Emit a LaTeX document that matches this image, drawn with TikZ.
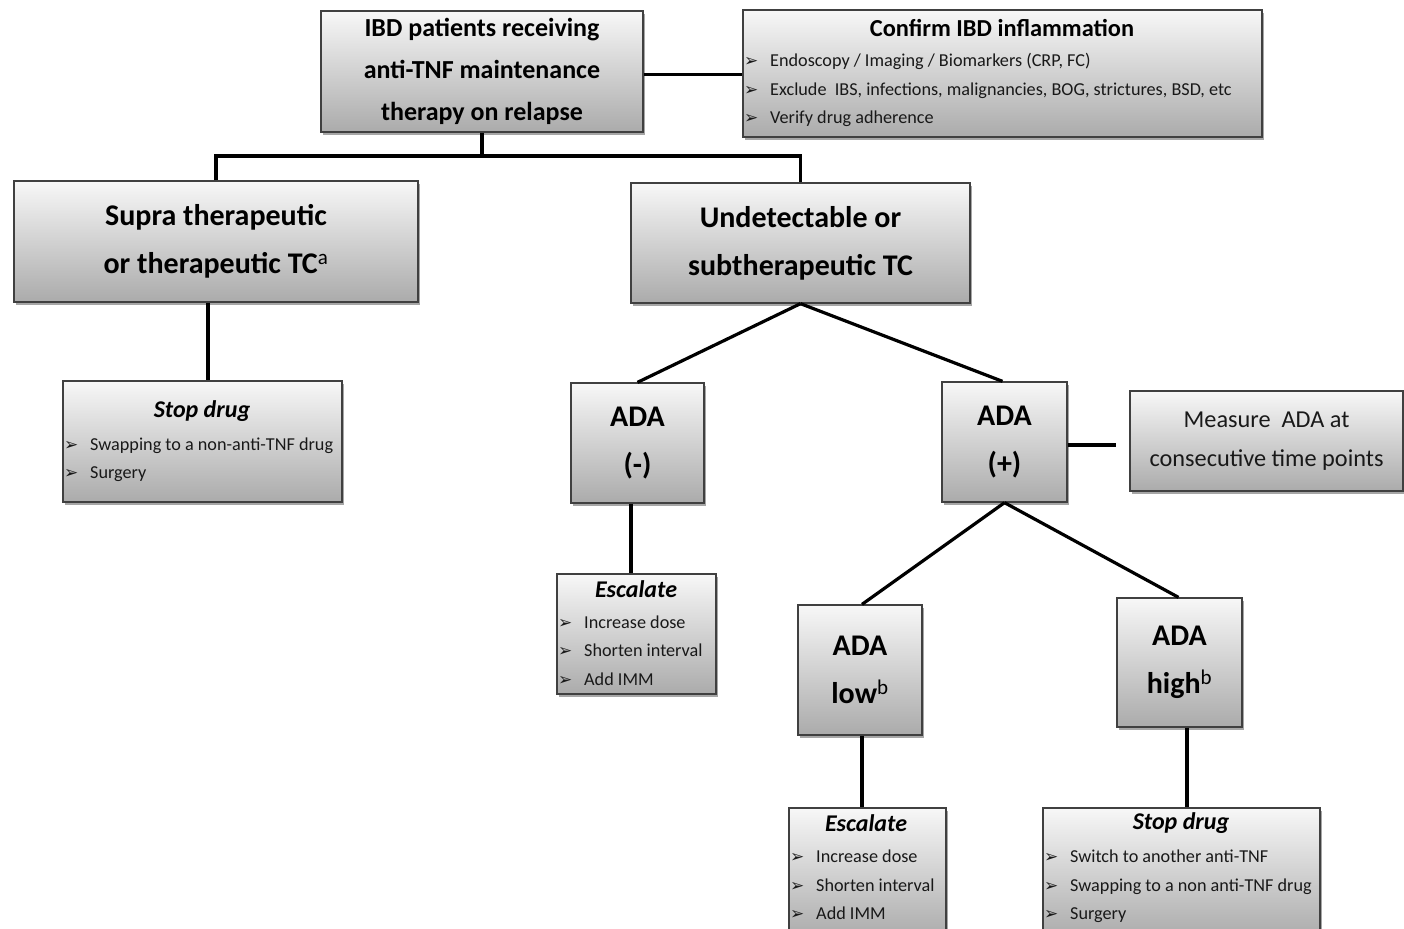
\documentclass[tikz,border=0pt]{standalone}
\usepackage{fontspec}
\setmainfont{Carlito}
\newfontfamily\dvs{DejaVu Sans}
\usetikzlibrary{shadows}
\newcommand{\bsym}{\makebox[26pt][l]{\dvs\fontsize{17}{17}\selectfont ➢}}
\tikzset{
  box/.style={rectangle, draw=black!75, line width=1.3pt, top color=gray!6, bottom color=gray!66,
    drop shadow={shadow xshift=2pt, shadow yshift=-3pt, opacity=0.35, fill=black},
    inner sep=0pt, align=center},
  conn/.style={line width=3.2pt, black},
  bigtxt/.style={font=\fontsize{30}{48}\selectfont\bfseries},
  toptxt/.style={font=\fontsize{26}{42}\selectfont\bfseries},
  ttl/.style={inner sep=0pt, font=\fontsize{24.4}{24}\selectfont\bfseries},
  ittl/.style={inner sep=0pt, font=\fontsize{24}{24}\selectfont\bfseries\itshape},
  bul/.style={anchor=west, inner sep=0pt, font=\fontsize{18.2}{18}\selectfont, text=black!90, text height=13pt, text depth=4.5pt},
  bulb/.style={bul},
  midtxt/.style={font=\fontsize{24.3}{39}\selectfont, text=black!90},
}
\begin{document}
\begin{tikzpicture}[x=1pt,y=-1pt]
\useasboundingbox (0,0) rectangle (1404,928);
\clip (0,0) rectangle (1404,928);

% ---- boxes ----
\node[box, toptxt, minimum width=322pt, minimum height=121pt] (ibd) at (482,71.5)
  {IBD patients receiving\\anti-TNF maintenance\\therapy on relapse};
\node[box, minimum width=519pt, minimum height=127pt] (conf) at (1002.5,73.5) {};
\node[box, bigtxt, minimum width=404pt, minimum height=121pt] (supra) at (216,241.5)
  {Supra therapeutic\\or therapeutic TC\textsuperscript{\mdseries a}};
\node[box, bigtxt, minimum width=339pt, minimum height=120pt] (undet) at (800.5,243)
  {Undetectable or\\subtherapeutic TC};
\node[box, minimum width=279pt, minimum height=121pt] (stop1) at (202.5,441.5) {};
\node[box, bigtxt, minimum width=133pt, minimum height=120pt] (adam) at (637.5,443) {ADA\\(-)};
\node[box, bigtxt, minimum width=125pt, minimum height=120pt] (adap) at (1004.5,442) {ADA\\(+)};
\node[box, midtxt, minimum width=273pt, minimum height=100pt] (meas) at (1266.5,441)
  {Measure\ \ ADA at\\consecutive time points};
\node[box, minimum width=159pt, minimum height=120pt] (esc1) at (636.5,634) {};
\node[box, bigtxt, minimum width=124pt, minimum height=130pt] (low) at (860,670)
  {ADA\\low\textsuperscript{\mdseries b}};
\node[box, bigtxt, minimum width=125pt, minimum height=129pt] (high) at (1179.5,662.5)
  {ADA\\high\textsuperscript{\mdseries b}};
\node[box, minimum width=157pt, minimum height=130pt] (esc2) at (867.5,873) {};
\node[box, minimum width=277pt, minimum height=130pt] (stop2) at (1181.5,873) {};

% ---- box contents ----
\node[ttl] (confT) at (1002,28) {Confirm IBD inflammation};
\node[bul] (conf1) at (744,62) {\bsym Endoscopy / Imaging / Biomarkers (CRP, FC)};
\node[bul] (conf2) at (744,91) {\bsym Exclude\ \ IBS, infections, malignancies, BOG, strictures, BSD, etc};
\node[bul] (conf3) at (744,119) {\bsym Verify drug adherence};

\node[ittl] (stop1T) at (202,411) {Stop drug};
\node[bul] (stop1a) at (64,446) {\bsym Swapping to a non-anti-TNF drug};
\node[bul] (stop1b) at (64,474) {\bsym Surgery};

\node[ittl] (esc1T) at (636,589) {Escalate};
\node[bulb] (esc1a) at (558,624) {\bsym Increase dose};
\node[bulb] (esc1b) at (558,652) {\bsym Shorten interval};
\node[bulb] (esc1c) at (558,681) {\bsym Add IMM};

\node[ittl] (esc2T) at (866,823) {Escalate};
\node[bulb] (esc2a) at (790,858) {\bsym Increase dose};
\node[bulb] (esc2b) at (790,887) {\bsym Shorten interval};
\node[bulb] (esc2c) at (790,915) {\bsym Add IMM};

\node[ittl] (stop2T) at (1181,823) {Stop drug};
\node[bulb] (stop2a) at (1044,858) {\bsym Switch to another anti-TNF};
\node[bulb] (stop2b) at (1044,887) {\bsym Swapping to a non anti-TNF drug};
\node[bulb] (stop2c) at (1044,915) {\bsym Surgery};

% ---- connectors ----
\coordinate (j1) at (482,156);
\draw[conn] ([yshift=-3pt]ibd.east) -- ([yshift=-3pt]ibd.east -| conf.west);
\draw[conn] (ibd.south) -- (ibd.south |- j1);
\draw[conn] (supra.north) -- (supra.north |- j1) -- (undet.north |- j1) -- (undet.north);
\draw[conn] ([xshift=-8pt]supra.south) -- ([xshift=-8pt]supra.south |- stop1.north);
\draw[conn] (undet.south) -- (adam.north);
\draw[conn] (undet.south) -- ([xshift=-2pt]adap.north);
\draw[conn] ([xshift=-6.5pt]adam.south) -- ([xshift=-6.5pt]adam.south |- esc1.north);
\draw[conn, shorten >=13pt] ([yshift=-3pt]adap.east) -- ([yshift=-3pt]adap.east -| meas.west);
\draw[conn] (adap.south) -- ([xshift=2pt]low.north);
\draw[conn] (adap.south) -- ([xshift=-1pt]high.north);
\draw[conn] ([xshift=2pt]low.south) -- ([xshift=2pt]low.south |- esc2.north);
\draw[conn] ([xshift=7.5pt]high.south) -- ([xshift=7.5pt]high.south |- stop2.north);
\end{tikzpicture}
\end{document}
